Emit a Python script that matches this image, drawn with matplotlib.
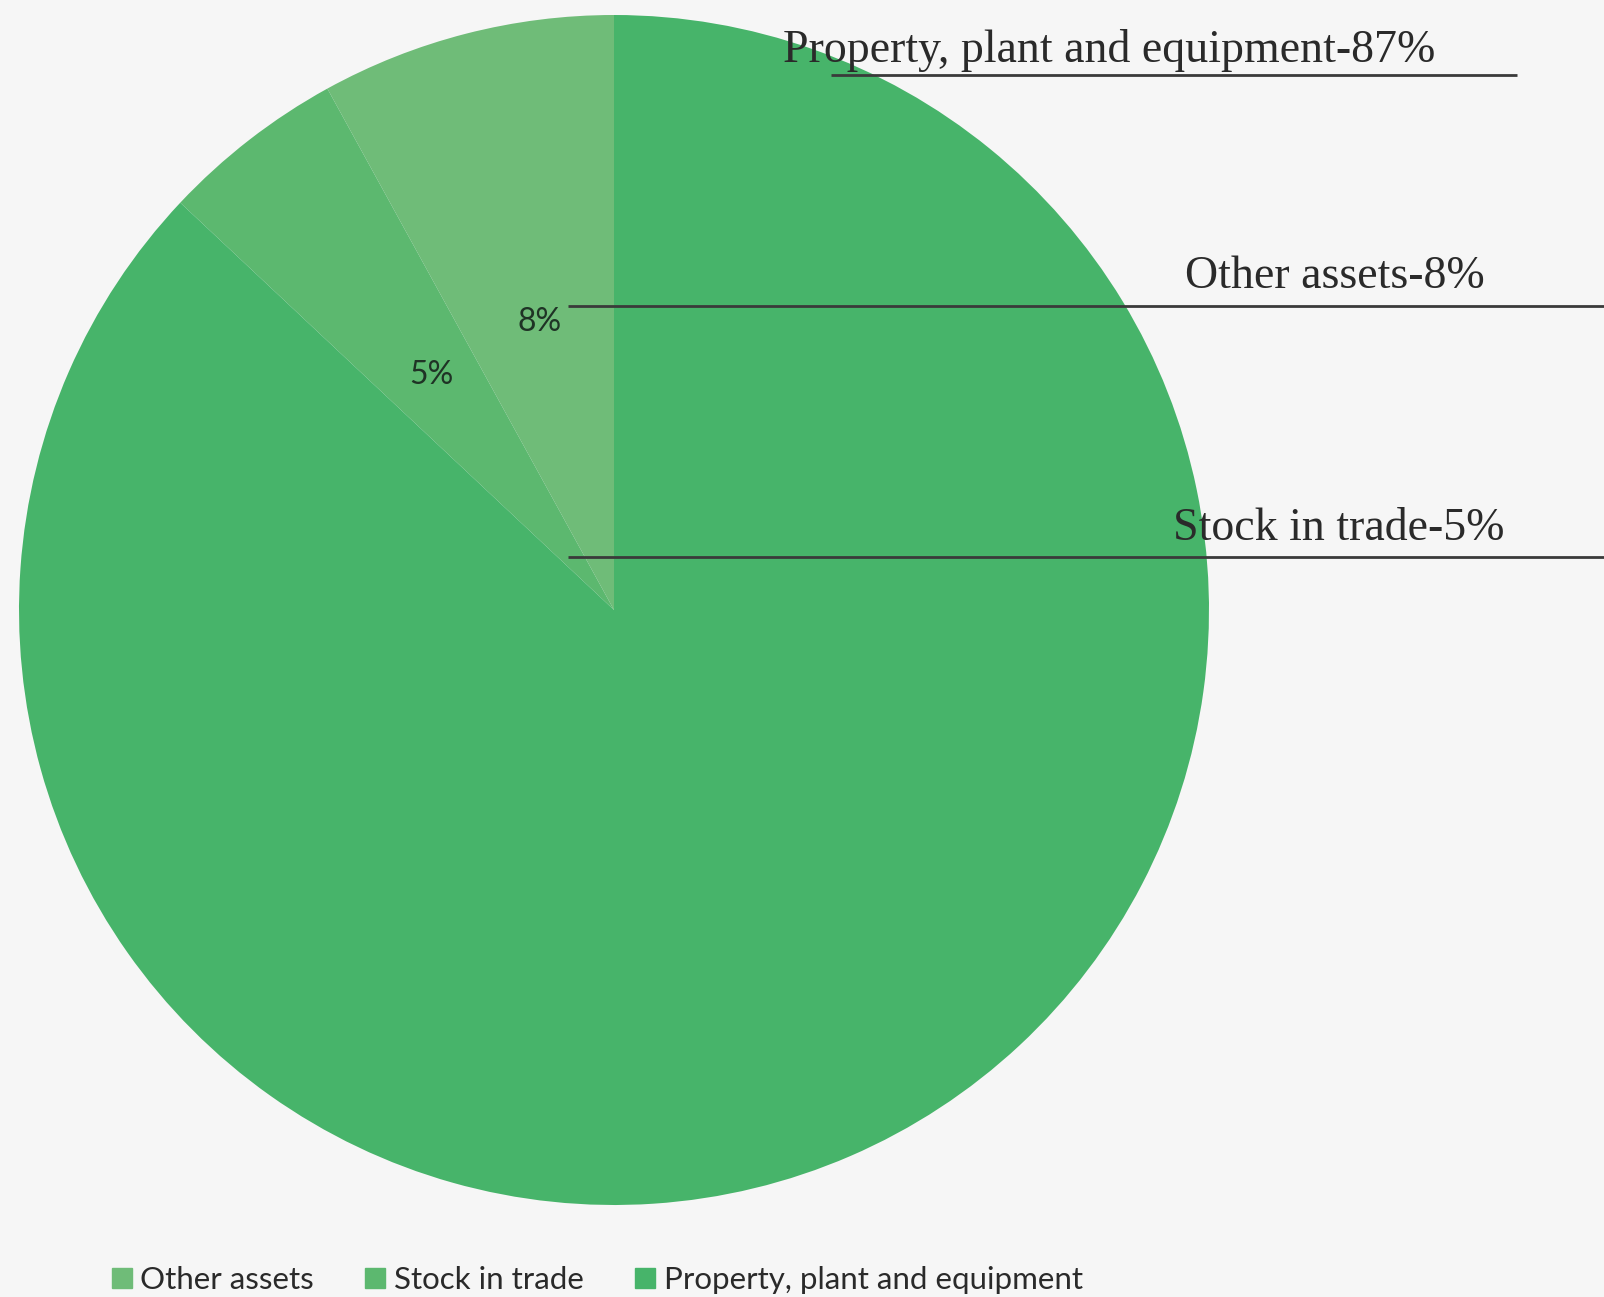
import matplotlib
matplotlib.use("Agg")
import matplotlib.pyplot as plt
from matplotlib.lines import Line2D

categories = ["Other assets", "Stock in trade", "Property, plant and equipment"]
values = [8, 5, 87]
colors = ["#6fbc78", "#5cb86f", "#47b46a"]
callouts = ["Property, plant and equipment-87%", "Other assets-8%", "Stock in trade-5%"]

W, H = 1604, 1297
fig = plt.figure(figsize=(W / 100, H / 100), dpi=100)
fig.patch.set_facecolor("#f6f6f6")

cx, cy, r = 614, 610, 595
ax = fig.add_axes([(cx - r) / W, (H - cy - r) / H, 2 * r / W, 2 * r / H])

wedges, texts, autotexts = ax.pie(
    values, colors=colors, startangle=90, counterclock=True, radius=1,
    autopct=lambda p: f"{p:.0f}%" if p < 50 else "", pctdistance=0.5,
    textprops=dict(family="Lato", fontsize=23, color="#1f3325"),
    wedgeprops=dict(linewidth=0),
)
ax.set_xlim(-1, 1)
ax.set_ylim(-1, 1)
ax.set_aspect("equal")
ax.axis("off")

# overlay axes in pixel coordinates for callout lines and texts
ov = fig.add_axes([0, 0, 1, 1])
ov.set_xlim(0, W)
ov.set_ylim(H, 0)
ov.axis("off")
ov.patch.set_alpha(0)

line_kw = dict(color="#3a3a3a", lw=2.0, solid_capstyle="butt")
ov.plot([831, 1517], [75, 75], **line_kw)
ov.plot([568, 1604], [306, 306], **line_kw)
ov.plot([568, 1604], [557, 557], **line_kw)

serif = dict(family="Liberation Serif", fontsize=33, color="#2a2a2a", va="center", ha="left")
ov.text(783, 51, callouts[0], **serif)
ov.text(1185, 277, callouts[1], **serif)
ov.text(1173, 529, callouts[2], **serif)

handles = [Line2D([], [], marker="s", linestyle="none", markersize=15,
                  markerfacecolor=c, markeredgecolor=c) for c in colors]
fig.legend(handles, categories, loc="center left", bbox_to_anchor=(78 / W, 1 - 1280 / H),
           ncol=3, frameon=False, prop=dict(family="Lato", size=22.5),
           handletextpad=0.1, columnspacing=1.45, handlelength=1.0, labelcolor="#2a2a2a")

fig.savefig("out.png", dpi=100, facecolor=fig.get_facecolor())
